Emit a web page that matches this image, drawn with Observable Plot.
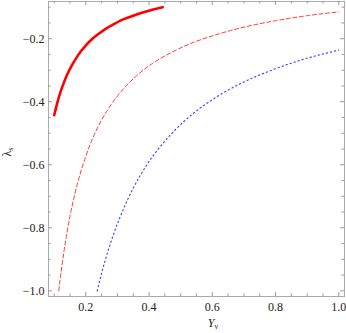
<!DOCTYPE html>
<html><head><meta charset="utf-8">
<script src="https://cdn.jsdelivr.net/npm/d3@7"></script>
<script src="https://cdn.jsdelivr.net/npm/@observablehq/plot@0.6"></script>
<style>body{margin:0;background:#fff}</style>
</head><body><div id="chart"></div>
<script>
// Solid thick red curve
const solidX = [0.100, 0.110, 0.120, 0.130, 0.140, 0.155, 0.170, 0.185, 0.200, 0.220, 0.240, 0.265, 0.290, 0.320, 0.350, 0.380, 0.410, 0.443];
const solidY = [-0.443, -0.403, -0.369, -0.341, -0.316, -0.286, -0.261, -0.239, -0.2215, -0.201, -0.185, -0.167, -0.153, -0.138, -0.127, -0.117, -0.108, -0.100];
// Dashed red curve
const dashX = [0.1145, 0.120, 0.130, 0.140, 0.150, 0.165, 0.180, 0.200, 0.220, 0.250, 0.280, 0.320, 0.360, 0.410, 0.470, 0.540, 0.620, 0.710, 0.800, 0.900, 1.000];
const dashY = [-1.000, -0.954, -0.881, -0.818, -0.763, -0.694, -0.636, -0.573, -0.520, -0.458, -0.409, -0.358, -0.318, -0.279, -0.244, -0.212, -0.185, -0.161, -0.143, -0.127, -0.115];
// Dotted blue curve
const dotX = [0.236, 0.250, 0.270, 0.290, 0.320, 0.350, 0.390, 0.430, 0.480, 0.540, 0.610, 0.690, 0.780, 0.880, 1.000];
const dotY = [-1.000, -0.944, -0.874, -0.814, -0.738, -0.674, -0.605, -0.549, -0.492, -0.437, -0.387, -0.342, -0.303, -0.268, -0.236];

const xMajor = [0.2, 0.4, 0.6, 0.8, 1.0];
const xMinor = [0.1, 0.15, 0.25, 0.3, 0.35, 0.45, 0.5, 0.55, 0.65, 0.7, 0.75, 0.85, 0.9, 0.95];
const yMajor = [-1.0, -0.8, -0.6, -0.4, -0.2];
const yMinor = [-0.95, -0.9, -0.85, -0.75, -0.7, -0.65, -0.55, -0.5, -0.45, -0.35, -0.3, -0.25, -0.15, -0.1];
const xDomain = [0.082, 1.018];
const yDomain = [-1.018, -0.082];

const W = 346, H = 333;
const mL = 48, mR = 2, mT = 1, mB = 37;
const iW = W - mL - mR, iH = H - mT - mB;
const majorLen = 4, minorLen = 2.5;
const tickColor = "#999";
const serif = "Liberation Serif, DejaVu Serif, serif";

const toPts = (xs, ys) => xs.map((x, i) => ({x, y: ys[i]}));

const chart = Plot.plot({
  width: W, height: H,
  marginLeft: mL, marginRight: mR, marginTop: mT, marginBottom: mB,
  style: {fontSize: "12px", fontFamily: serif, color: "#222", background: "#fff"},
  x: {domain: xDomain},
  y: {domain: yDomain},
  marks: [
    Plot.frame({stroke: "#aaa", strokeWidth: 1}),
    // bottom & top ticks
    Plot.ruleX(xMajor, {stroke: tickColor, insetTop: iH - majorLen}),
    Plot.ruleX(xMinor, {stroke: tickColor, insetTop: iH - minorLen}),
    Plot.ruleX(xMajor, {stroke: tickColor, insetBottom: iH - majorLen}),
    Plot.ruleX(xMinor, {stroke: tickColor, insetBottom: iH - minorLen}),
    // left & right ticks
    Plot.ruleY(yMajor, {stroke: tickColor, insetRight: iW - majorLen}),
    Plot.ruleY(yMinor, {stroke: tickColor, insetRight: iW - minorLen}),
    Plot.ruleY(yMajor, {stroke: tickColor, insetLeft: iW - majorLen}),
    Plot.ruleY(yMinor, {stroke: tickColor, insetLeft: iW - minorLen}),
    Plot.axisX({ticks: xMajor, tickSize: 0, tickPadding: 6, tickFormat: d3.format(".1f"), label: null, fontFamily: serif, fontSize: 12}),
    Plot.axisY({ticks: yMajor, tickSize: 0, tickPadding: 4, tickFormat: d3.format(".1f"), label: null, fontFamily: serif, fontSize: 12}),
    Plot.line(toPts(dotX, dotY), {x: "x", y: "y", curve: "monotone-x", stroke: "#4444ff", strokeWidth: 1.2, strokeDasharray: "1.2,3"}),
    Plot.line(toPts(dashX, dashY), {x: "x", y: "y", curve: "monotone-x", stroke: "#ff3b3b", strokeWidth: 1, strokeDasharray: "4,2.6"}),
    Plot.line(toPts(solidX, solidY), {x: "x", y: "y", curve: "monotone-x", stroke: "#ff0000", strokeWidth: 2.6})
  ]
});

const svg = d3.select(chart);
svg.selectAll("text").style("font-family", serif);
// x axis label Y_ν
const xl = svg.append("text")
  .attr("x", 213).attr("y", 327)
  .attr("text-anchor", "middle")
  .style("font-family", serif)
  .attr("font-size", 12).attr("fill", "#222");
xl.append("tspan").attr("font-style", "italic").text("Y");
xl.append("tspan").attr("font-size", 8).attr("dy", 2).text("ν");
// y axis label λ_s
const yl = svg.append("text")
  .attr("transform", "translate(11,152) rotate(-90)")
  .attr("text-anchor", "middle")
  .style("font-family", serif)
  .attr("font-size", 12).attr("fill", "#222");
yl.append("tspan").text("λ");
yl.append("tspan").attr("font-size", 8).attr("dy", 2).text("s");

document.getElementById("chart").appendChild(chart);
</script>
</body></html>
